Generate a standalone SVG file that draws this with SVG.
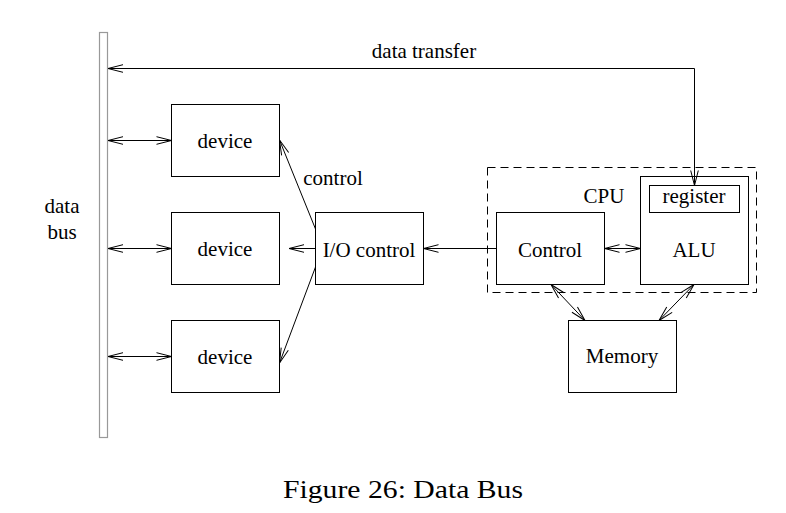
<svg xmlns="http://www.w3.org/2000/svg" width="786" height="513" viewBox="0 0 786 513">
  <style>
    .box { fill: #fff; stroke: #000; stroke-width: 1; }
    .bus { fill: #fff; stroke: #999; stroke-width: 1.2; }
    .cpu { fill: none; stroke: #000; stroke-width: 1; stroke-dasharray: 8 5; }
    .wire { fill: none; stroke: #000; stroke-width: 1; }
    .lbl { font-family: "Liberation Serif", "Times New Roman", serif; font-size: 21px; fill: #000; text-anchor: middle; }
    .cap { font-family: "Liberation Serif", "Times New Roman", serif; font-size: 26px; fill: #000; text-anchor: middle; }
  </style>
  <defs>
    <marker id="arr" markerUnits="userSpaceOnUse" markerWidth="20" markerHeight="12" viewBox="-16 -6 18 12" refX="0" refY="0" orient="auto-start-reverse">
      <path d="M -15 -3.8 L 0 0 L -15 3.8" fill="none" stroke="#000" stroke-width="1"/>
    </marker>
  </defs>

  <rect width="786" height="513" fill="#fff"/>

  <!-- data bus bar -->
  <g id="bus">
    <rect class="bus" x="99.5" y="32.5" width="8" height="405"/>
    <text class="lbl" x="62" y="213">data</text>
    <text class="lbl" x="62" y="239">bus</text>
  </g>

  <g id="device1">
    <rect class="box" x="171.5" y="104.5" width="108" height="72"/>
    <text class="lbl" x="225" y="148">device</text>
  </g>
  <g id="device2">
    <rect class="box" x="171.5" y="212.5" width="108" height="72"/>
    <text class="lbl" x="225" y="256">device</text>
  </g>
  <g id="device3">
    <rect class="box" x="171.5" y="320.5" width="108" height="72"/>
    <text class="lbl" x="225" y="364">device</text>
  </g>

  <g id="io-control">
    <rect class="box" x="315.5" y="212.5" width="108" height="72"/>
    <text class="lbl" x="369" y="257">I/O control</text>
  </g>

  <g id="cpu">
    <rect class="cpu" x="487.5" y="167.5" width="269" height="125"/>
    <text class="lbl" x="604" y="203">CPU</text>
  </g>

  <g id="control">
    <rect class="box" x="496.5" y="212.5" width="108" height="72"/>
    <text class="lbl" x="550" y="257">Control</text>
  </g>

  <g id="alu">
    <rect class="box" x="640.5" y="176.5" width="108" height="108"/>
    <text class="lbl" x="694" y="257">ALU</text>
  </g>

  <g id="register">
    <rect class="box" x="649.5" y="185.5" width="90" height="27"/>
    <text class="lbl" x="694" y="203">register</text>
  </g>

  <g id="memory">
    <rect class="box" x="568.5" y="320.5" width="108" height="72"/>
    <text class="lbl" x="622" y="363">Memory</text>
  </g>

  <g id="connectors">
    <!-- data transfer between register and bus -->
    <path class="wire" d="M 694.5 185.5 L 694.5 68.5 L 108 68.5" marker-start="url(#arr)" marker-end="url(#arr)"/>
    <text class="lbl" x="424" y="58">data transfer</text>

    <!-- bus to devices -->
    <line class="wire" x1="108" y1="140.5" x2="171.5" y2="140.5" marker-start="url(#arr)" marker-end="url(#arr)"/>
    <line class="wire" x1="108" y1="248.5" x2="171.5" y2="248.5" marker-start="url(#arr)" marker-end="url(#arr)"/>
    <line class="wire" x1="108" y1="356.5" x2="171.5" y2="356.5" marker-start="url(#arr)" marker-end="url(#arr)"/>

    <!-- I/O control to devices -->
    <line class="wire" x1="315.5" y1="229" x2="279.5" y2="140" marker-end="url(#arr)"/>
    <line class="wire" x1="315.5" y1="248.5" x2="289" y2="248.5" marker-end="url(#arr)"/>
    <line class="wire" x1="315.5" y1="267" x2="279.5" y2="363" marker-end="url(#arr)"/>
    <text class="lbl" x="333" y="185">control</text>

    <!-- Control to I/O control -->
    <line class="wire" x1="496.5" y1="248.5" x2="423.5" y2="248.5" marker-end="url(#arr)"/>

    <!-- Control <-> ALU -->
    <line class="wire" x1="604.5" y1="248.5" x2="640.5" y2="248.5" marker-start="url(#arr)" marker-end="url(#arr)"/>

    <!-- CPU <-> Memory -->
    <line class="wire" x1="551" y1="284.5" x2="585" y2="320.5" marker-start="url(#arr)" marker-end="url(#arr)"/>
    <line class="wire" x1="694" y1="284.5" x2="659" y2="320.5" marker-start="url(#arr)" marker-end="url(#arr)"/>
  </g>

  <text class="cap" x="403" y="498" textLength="240" lengthAdjust="spacingAndGlyphs">Figure 26: Data Bus</text>
</svg>
